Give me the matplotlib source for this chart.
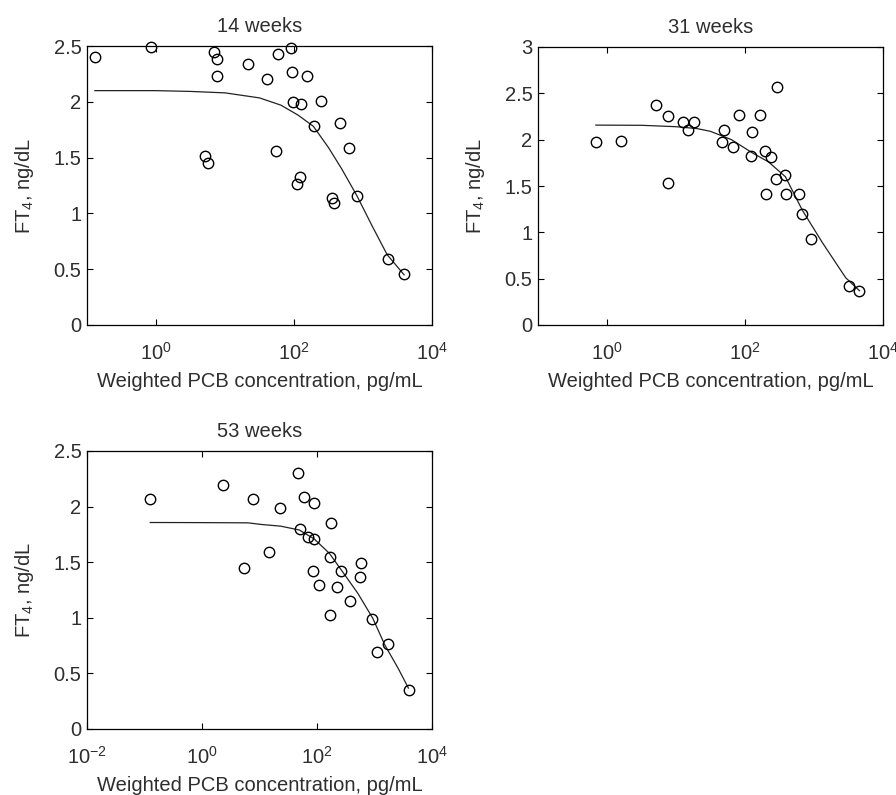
import matplotlib
matplotlib.use("Agg")
import matplotlib.pyplot as plt
from matplotlib.ticker import FixedLocator, FixedFormatter, NullLocator

plt.rcParams['font.family'] = ['Liberation Sans', 'DejaVu Sans']
plt.rcParams['mathtext.fontset'] = 'custom'
plt.rcParams['mathtext.rm'] = 'Liberation Sans'
plt.rcParams['mathtext.it'] = 'Liberation Sans'
plt.rcParams['mathtext.default'] = 'regular'

# ---- data: 14 weeks ----
x14 = [0.13, 0.84, 6.98, 7.55, 7.55, 5.15, 5.64, 21.7, 40.3, 57.7, 54.5, 89.4, 92.5,
       97.8, 128, 155, 121, 109, 248, 194, 360, 381, 461, 624, 817, 2270, 3940]
y14 = [2.40, 2.49, 2.45, 2.38, 2.23, 1.51, 1.45, 2.34, 2.20, 2.43, 1.56, 2.48, 2.27,
       2.00, 1.98, 2.23, 1.33, 1.26, 2.01, 1.78, 1.14, 1.09, 1.81, 1.59, 1.16, 0.59, 0.46]
fit14_x = [0.13, 1.0, 3.16, 10.0, 31.6, 64.6, 115, 191, 316, 490, 813, 1350, 2240, 3940]
fit14_y = [2.10, 2.10, 2.093, 2.08, 2.035, 1.97, 1.88, 1.78, 1.59, 1.40, 1.16, 0.89, 0.63, 0.45]

# ---- data: 31 weeks ----
x31 = [0.69, 1.58, 5.21, 7.55, 7.55, 12.8, 15.1, 18.1, 49.3, 47.1, 66, 81.7, 122, 125,
       166, 194, 238, 201, 291, 284, 385, 389, 604, 675, 914, 3180, 4560]
y31 = [1.977, 1.99, 2.377, 2.26, 1.534, 2.186, 2.10, 2.186, 2.107, 1.977, 1.923, 2.269,
       1.829, 2.078, 2.269, 1.88, 1.81, 1.41, 2.57, 1.577, 1.62, 1.41, 1.41, 1.203, 0.925,
       0.425, 0.37]
fit31_x = [0.69, 3.16, 10.0, 20.0, 31.6, 63.8, 126, 219, 385, 676, 1320, 2880, 4560]
fit31_y = [2.157, 2.155, 2.14, 2.12, 2.09, 2.00, 1.86, 1.76, 1.60, 1.24, 0.89, 0.51, 0.37]

# ---- data: 53 weeks ----
x53 = [0.126, 2.30, 7.59, 5.29, 14.9, 22.5, 45.9, 60, 88.7, 51.1, 68.7, 89.8, 86.3, 107,
       176, 167, 167, 263, 221, 378, 580, 550, 916, 1120, 1720, 3910]
y53 = [2.072, 2.198, 2.072, 1.45, 1.588, 1.983, 2.306, 2.087, 2.028, 1.797, 1.728, 1.705,
       1.42, 1.292, 1.857, 1.543, 1.026, 1.42, 1.28, 1.154, 1.489, 1.37, 0.993, 0.694,
       0.763, 0.347]
fit53_x = [0.126, 1.0, 6.3, 10.5, 23.4, 49, 89, 164, 282, 513, 933, 1510, 2570, 3890]
fit53_y = [1.857, 1.856, 1.854, 1.84, 1.824, 1.79, 1.71, 1.58, 1.41, 1.22, 0.996, 0.756, 0.547, 0.368]

# ---- axes settings ----
titles = ["14 weeks", "31 weeks", "53 weeks"]
xlims = [(1e-1, 1e4), (1e-1, 1e4), (1e-2, 1e4)]
xticks = [[1e0, 1e2, 1e4], [1e0, 1e2, 1e4], [1e-2, 1e0, 1e2, 1e4]]
xticklabels = [[r"$10^{0}$", r"$10^{2}$", r"$10^{4}$"],
               [r"$10^{0}$", r"$10^{2}$", r"$10^{4}$"],
               [r"$10^{-2}$", r"$10^{0}$", r"$10^{2}$", r"$10^{4}$"]]
ylims = [(0, 2.5), (0, 3), (0, 2.5)]
yticks = [[0, 0.5, 1, 1.5, 2, 2.5], [0, 0.5, 1, 1.5, 2, 2.5, 3], [0, 0.5, 1, 1.5, 2, 2.5]]
yticklabels = [["0", "0.5", "1", "1.5", "2", "2.5"],
               ["0", "0.5", "1", "1.5", "2", "2.5", "3"],
               ["0", "0.5", "1", "1.5", "2", "2.5"]]
xlabel = "Weighted PCB concentration, pg/mL"
ylabel = r"FT$_4$, ng/dL"

W, H = 896, 795
fig = plt.figure(figsize=(W / 100, H / 100), dpi=100)
rects = [(87, 46, 432, 325), (538, 47, 883, 325), (87, 451, 432, 729)]

datasets = [(x14, y14, fit14_x, fit14_y), (x31, y31, fit31_x, fit31_y),
            (x53, y53, fit53_x, fit53_y)]
txtc = '#2e2e2e'
fs = 14.5
for i, (l, t, r, b) in enumerate(rects):
    ax = fig.add_axes([l / W, 1 - b / H, (r - l) / W, (b - t) / H])
    xs, ys, fx, fy = datasets[i]
    ax.plot(fx, fy, '-', color='#222222', lw=0.9)
    ax.plot(xs, ys, 'o', mfc='none', mec='black', mew=1.0, ms=7.5, linestyle='none',
            clip_on=False)
    ax.set_xscale('log')
    ax.set_xlim(*xlims[i])
    ax.set_ylim(*ylims[i])
    ax.xaxis.set_major_locator(FixedLocator(xticks[i]))
    ax.xaxis.set_major_formatter(FixedFormatter(xticklabels[i]))
    ax.xaxis.set_minor_locator(NullLocator())
    ax.set_yticks(yticks[i])
    ax.set_yticklabels(yticklabels[i])
    ax.tick_params(direction='in', length=4.5, width=0.8, top=True, right=True,
                   labelsize=fs, colors='black', labelcolor=txtc)
    ax.tick_params(axis='x', pad=12)
    ax.tick_params(axis='y', pad=4)
    for s in ax.spines.values():
        s.set_linewidth(0.9)
    ax.set_title(titles[i], fontsize=fs, color=txtc, pad=10)
    ax.set_xlabel(xlabel, fontsize=fs, color=txtc, labelpad=6)
    ax.set_ylabel(ylabel, fontsize=fs, color=txtc, labelpad=13)

fig.savefig("out.png", dpi=100)
